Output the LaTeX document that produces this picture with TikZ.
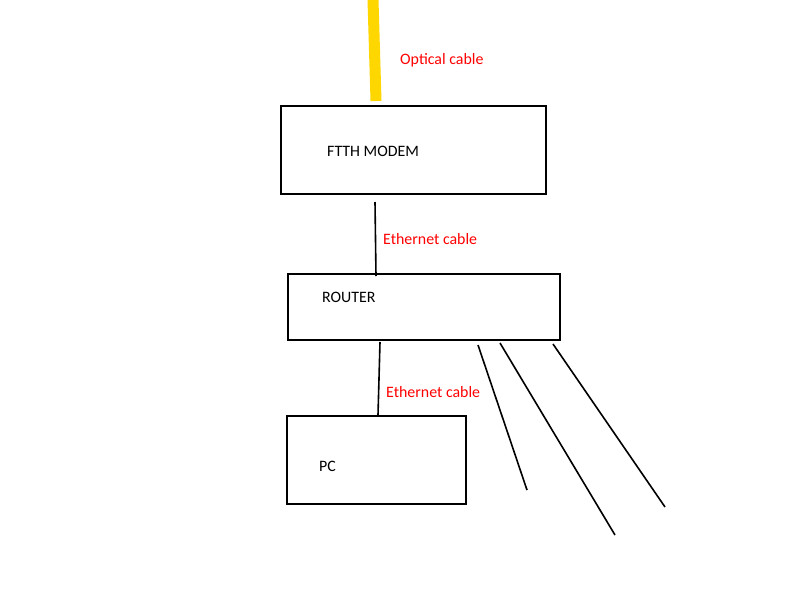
\documentclass[tikz,border=0pt]{standalone}
\usepackage{fontspec}
\setmainfont{Carlito}
\begin{document}
\begin{tikzpicture}[x=1pt,y=-1pt,
  box/.style={draw=black,line width=2pt,inner sep=0pt},
  lbl/.style={anchor=west,inner sep=0pt,font=\fontsize{15.9}{18}\selectfont},
  red lbl/.style={lbl,text={rgb,255:red,255;green,0;blue,0}},
  wire/.style={draw=black,line width=1.6pt},
  fibre/.style={draw={rgb,255:red,255;green,215;blue,0},line width=11pt}]
\useasboundingbox[fill=white] (0,0) rectangle (800,600);
% boxes
\node[box,minimum width=265pt,minimum height=88pt] (modem) at (413.5,150) {};
\node[box,minimum width=272pt,minimum height=66pt] (router) at (424,307) {};
\node[box,minimum width=179pt,minimum height=88pt] (pc) at (376.5,460) {};
% texts
\node[lbl] (tm) at (327,151) {FTTH MODEM};
\node[lbl] (tr) at (322,297) {ROUTER};
\node[lbl] (tp) at (319,466) {PC};
\node[red lbl] (lo) at (400,60) {Optical cable};
\node[red lbl] (le1) at (383,239) {Ethernet cable};
\node[red lbl] (le2) at (386,392) {Ethernet cable};
% coordinates
\coordinate (ftop) at (373,0);
\coordinate (fbot) at (376,101);
\coordinate (e1a) at (375,202);
\coordinate (e1b) at (376,276);
\coordinate (e2a) at (380,342);
\coordinate (e2b) at (378,415);
\coordinate (w1a) at (478,345);
\coordinate (w1b) at (527,490);
\coordinate (w2a) at (500,343);
\coordinate (w2b) at (615,535);
\coordinate (w3a) at (553,344);
\coordinate (w3b) at (665,507);
% connectors
\draw[fibre] (ftop) -- (fbot);
\draw[wire] (e1a) -- (e1b);
\draw[wire] (e2a) -- (e2b);
\draw[wire] (w1a) -- (w1b);
\draw[wire] (w2a) -- (w2b);
\draw[wire] (w3a) -- (w3b);
\end{tikzpicture}
\end{document}
